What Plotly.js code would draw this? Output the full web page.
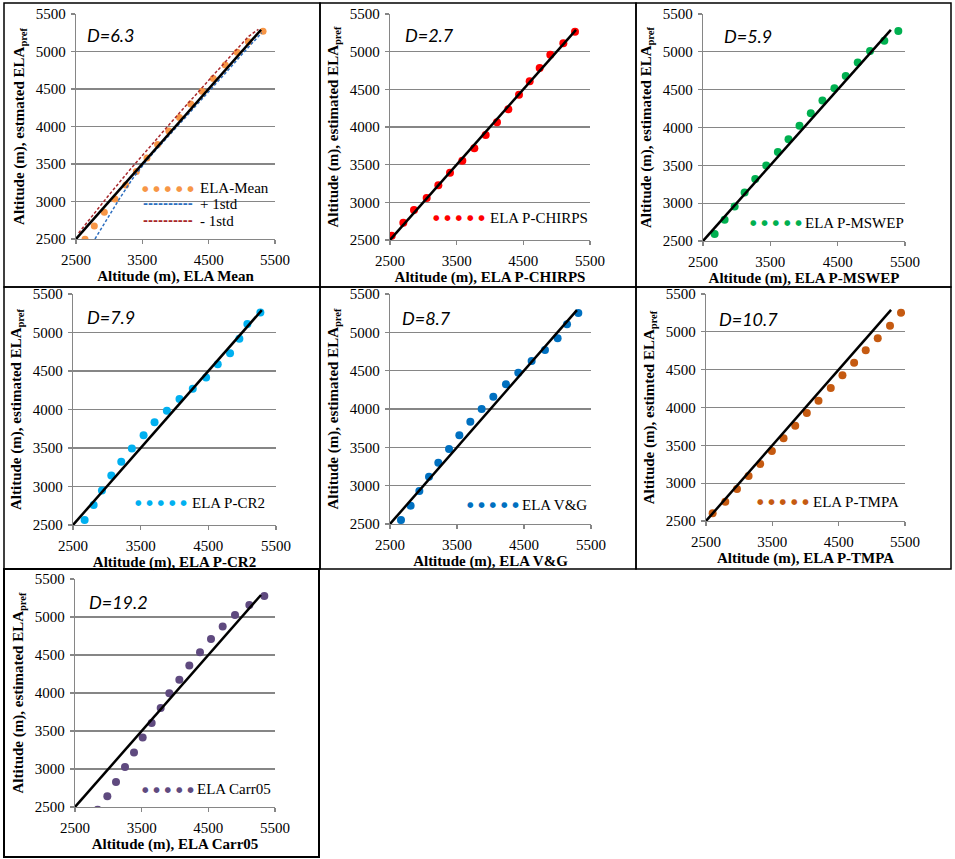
<!DOCTYPE html>
<html><head><meta charset="utf-8">
<script src="https://cdn.plot.ly/plotly-3.0.1.min.js"></script>
<style>html,body{margin:0;padding:0;background:#fff}#chart{width:955px;height:859px}</style>
</head><body><div id="chart"></div>
<script>
// ---------- data ----------
const xMean  = [2636,2776,2927,3088,3250,3410,3570,3730,3900,4060,4230,4400,4570,4750,4930,5100,5320];
const yMean  = [2496,2673,2856,3033,3220,3400,3580,3760,3940,4120,4300,4470,4640,4820,4990,5130,5270];
const xPlus  = [2786,2950,3150,3350,3550,3800,4100,4400,4700,5000,5300];
const yPlus  = [2500,2740,3030,3300,3530,3780,4070,4360,4660,4960,5250];
const xMinus = [2540,2750,3000,3300,3600,3900,4200,4500,4800,5100,5250];
const yMinus = [2580,2820,3090,3410,3720,4020,4320,4620,4910,5200,5296];
const xChirps = [2525,2700,2860,3050,3225,3400,3585,3765,3935,4105,4275,4435,4595,4745,4905,5100,5275];
const yChirps = [2557,2730,2898,3058,3226,3394,3553,3717,3894,4062,4235,4429,4606,4783,4960,5111,5266];
const xMswep  = [2673,2821,2970,3118,3276,3439,3612,3770,3933,4101,4274,4452,4620,4798,4981,5193,5401];
const yMswep  = [2592,2782,2957,3142,3318,3499,3675,3846,4022,4189,4356,4519,4682,4858,5012,5148,5276];
const xCr2    = [2672,2805,2928,3066,3213,3370,3543,3705,3887,4074,4270,4467,4639,4821,4959,5077,5269];
const yCr2    = [2565,2759,2949,3143,3320,3493,3666,3834,3985,4136,4270,4417,4589,4732,4918,5112,5259];
const xVG     = [2664,2808,2938,3082,3221,3381,3535,3699,3868,4042,4231,4415,4614,4813,5002,5142,5311];
const yVG     = [2552,2739,2930,3117,3300,3478,3657,3835,4000,4161,4322,4474,4626,4770,4922,5104,5252];
const xTmpa   = [2600,2791,2967,3142,3318,3493,3669,3845,4020,4196,4381,4557,4733,4908,5089,5274,5440];
const yTmpa   = [2601,2755,2923,3095,3253,3425,3592,3760,3927,4090,4258,4425,4592,4755,4914,5081,5253];
const xCarr   = [2840,2985,3115,3250,3385,3515,3650,3785,3915,4065,4215,4375,4540,4715,4900,5115,5340];
const yCarr   = [2465,2640,2829,3026,3218,3415,3604,3801,3998,4173,4362,4537,4712,4874,5027,5159,5277];
const oneToOne = [2500,5290];
const xTicks = [2500,3500,4500,5500];
const yTicks = [2500,3000,3500,4000,4500,5000,5500];
const dLabels = ['D=6.3','D=2.7','D=5.9','D=7.9','D=8.7','D=10.7','D=19.2'];
const xTitles = ['Altitude (m), ELA Mean','Altitude (m), ELA P-CHIRPS','Altitude (m), ELA P-MSWEP',
                 'Altitude (m), ELA P-CR2','Altitude (m), ELA V&G','Altitude (m), ELA P-TMPA','Altitude (m), ELA Carr05'];
const yTitles = ['Altitude (m), estmated ELA<sub>pref</sub>','Altitude (m), estimated ELA<sub>pref</sub>',
                 'Altitude (m), estimated ELA<sub>pref</sub>','Altitude (m), estimated ELA<sub>pref</sub>',
                 'Altitude (m), estimated ELA<sub>pref</sub>','Altitude (m), estimted ELA<sub>pref</sub>',
                 'Altitude (m), estimated ELA<sub>pref</sub>'];
const seriesNames = ['ELA-Mean','ELA P-CHIRPS','ELA P-MSWEP','ELA P-CR2','ELA V&G','ELA P-TMPA','ELA Carr05'];
const stdNames = ['+ 1std','- 1std'];

// ---------- layout geometry (pixels) ----------
const W=955, H=859;
const SERIF='Liberation Serif';
const GRAY='#868686';
const colors=['#F79646','#FF0000','#00B050','#00B0F0','#0070C0','#C55A11','#5F4A7F'];
const xs=[xMean,xChirps,xMswep,xCr2,xVG,xTmpa,xCarr];
const ys=[yMean,yChirps,yMswep,yCr2,yVG,yTmpa,yCarr];
const plotPx=[[76,275],[390,590],[703,905],[73,276],[390,591],[706,905],[75,275]];
const plotPy=[[14,239],[14,240],[14,241],[294,525],[294,524],[294,521],[579,807]];
const borders=[[4,3,320,287],[320,3,636,287],[636,3,951,287],[4,287,320,569],[320,287,636,569],[636,287,951,569],[4,569,319,857]];
const dPos=[[85,35],[403,35],[722,36],[85,317],[400,318],[717,319],[87,602]];
const legPos=[[140,198,188],[431,488,218],[748,803,223],[133,190,503],[465,520,505],[755,811,502],[140,195,789]];

const px2x=p=>p/W, py2y=p=>1-p/H;
const NB='\u00a0';
const dots='●'+(NB+NB+'●').repeat(4);
const dashes='-'.repeat(10);

const traces=[], layout={
  width:W,height:H,margin:{l:0,r:0,t:0,b:0},paper_bgcolor:'#fff',plot_bgcolor:'#fff',
  showlegend:false,shapes:[],annotations:[],font:{family:SERIF,color:'#000'}
};

for(let i=0;i<7;i++){
  const n=i===0?'':String(i+1);
  const xa='x'+n, ya='y'+n;
  if(i===0){
    traces.push({x:xMean,y:yMean,xaxis:xa,yaxis:ya,type:'scatter',mode:'markers',name:seriesNames[0],
      marker:{color:colors[0],size:7}});
    traces.push({x:xPlus,y:yPlus,xaxis:xa,yaxis:ya,type:'scatter',mode:'lines',name:stdNames[0],
      line:{color:'#2E6FC0',width:1.5,dash:'3px,2px'}});
    traces.push({x:xMinus,y:yMinus,xaxis:xa,yaxis:ya,type:'scatter',mode:'lines',name:stdNames[1],
      line:{color:'#A8282C',width:1.5,dash:'3px,2px'}});
  } else {
    traces.push({x:xs[i],y:ys[i],xaxis:xa,yaxis:ya,type:'scatter',mode:'markers',name:seriesNames[i],
      marker:{color:colors[i],size:8}});
  }
  traces.push({x:oneToOne,y:oneToOne,xaxis:xa,yaxis:ya,type:'scatter',mode:'lines',name:'1:1',
    line:{color:'#000',width:2.5}});

  layout['xaxis'+n]={domain:[px2x(plotPx[i][0]),px2x(plotPx[i][1])],anchor:ya,range:[2500,5500],
    tickmode:'array',tickvals:xTicks,ticks:'outside',ticklen:4,tickwidth:1.2,tickcolor:GRAY,
    showline:true,linecolor:GRAY,linewidth:1.3,showgrid:false,zeroline:false,automargin:false,fixedrange:true,
    tickfont:{family:SERIF,size:15,color:'#000'},ticklabelstandoff:3,
    title:{text:xTitles[i],font:{family:SERIF,size:15,color:'#000',weight:'bold'},standoff:1}};
  layout['yaxis'+n]={domain:[py2y(plotPy[i][1]),py2y(plotPy[i][0])],anchor:xa,range:[2500,5500],
    tickmode:'array',tickvals:yTicks,ticks:'outside',ticklen:4,tickwidth:1.2,tickcolor:GRAY,
    showline:true,linecolor:GRAY,linewidth:1.3,showgrid:true,gridcolor:GRAY,gridwidth:1.3,zeroline:false,
    automargin:false,fixedrange:true,
    tickfont:{family:SERIF,size:15,color:'#000'},ticklabelstandoff:2,
    title:{text:yTitles[i],font:{family:SERIF,size:15,color:'#000',weight:'bold'},standoff:7}};

  const b=borders[i];
  layout.shapes.push({type:'rect',xref:'paper',yref:'paper',x0:px2x(b[0]),x1:px2x(b[2]),y0:py2y(b[3]),y1:py2y(b[1]),
    line:{color:'#000',width:i===6?2:1.5},fillcolor:'rgba(0,0,0,0)',layer:'above'});

  layout.annotations.push({xref:'paper',yref:'paper',x:px2x(dPos[i][0]),y:py2y(dPos[i][1]),xanchor:'left',yanchor:'middle',
    showarrow:false,text:dLabels[i],font:{family:'Lato',size:18,color:'#000',style:'italic'}});

  const lp=legPos[i];
  layout.annotations.push({xref:'paper',yref:'paper',x:px2x(lp[0]),y:py2y(lp[2]),xanchor:'left',yanchor:'middle',
    showarrow:false,text:dots,font:{family:'DejaVu Sans',size:7.5,color:colors[i]}});
  layout.annotations.push({xref:'paper',yref:'paper',x:px2x(lp[1]),y:py2y(lp[2]),xanchor:'left',yanchor:'middle',
    showarrow:false,text:seriesNames[i],font:{family:SERIF,size:15,color:'#000'}});
  if(i===0){
    const rows=[[204,'#2E6FC0',stdNames[0]],[221,'#A8282C',stdNames[1]]];
    rows.forEach(r=>{
      layout.annotations.push({xref:'paper',yref:'paper',x:px2x(lp[0]+1),y:py2y(r[0]),xanchor:'left',yanchor:'middle',
        showarrow:false,text:dashes,font:{family:'DejaVu Sans',size:12,color:r[1],weight:'bold'}});
      layout.annotations.push({xref:'paper',yref:'paper',x:px2x(lp[1]),y:py2y(r[0]),xanchor:'left',yanchor:'middle',
        showarrow:false,text:r[2],font:{family:SERIF,size:15,color:'#000'}});
    });
  }
}

Plotly.newPlot('chart',traces,layout,{staticPlot:true,displayModeBar:false});
</script></body></html>
